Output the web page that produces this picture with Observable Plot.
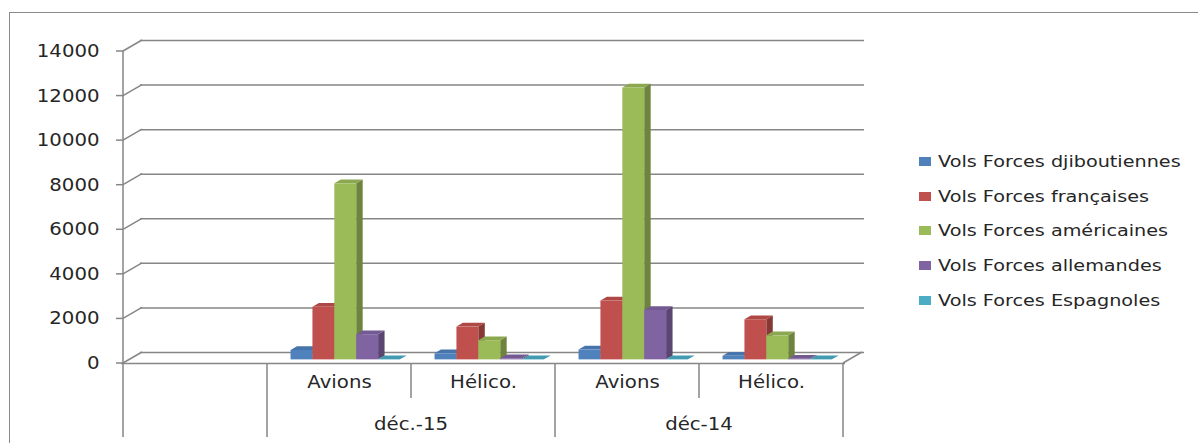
<!DOCTYPE html>
<html>
<head>
<meta charset="utf-8">
<script src="https://cdn.jsdelivr.net/npm/d3@7"></script>
<script src="https://cdn.jsdelivr.net/npm/@observablehq/plot@0.6"></script>
<style>
  html, body { margin: 0; padding: 0; background: #fff; overflow: hidden; }
  #chart { position: relative; width: 1198px; height: 443px; overflow: hidden;
           font-family: "DejaVu Sans", sans-serif; color: #262626; }
  #chart svg { position: absolute; left: 0; top: 0; }
  #border { position: absolute; left: 9px; top: 12px; width: 1300px; height: 600px;
            border: 1.5px solid #8a8a8a; box-sizing: border-box; pointer-events: none; }
  #legend { position: absolute; left: 919px; top: 144px; }
  .item { display: flex; align-items: center; height: 34.7px; }
  .sw { width: 12px; height: 9px; margin-right: 7px; flex: none; }
  .lab { font-size: 16px; transform: scaleX(1.2); transform-origin: left center; white-space: nowrap; }
</style>
</head>
<body>
<div id="chart"></div>
<script>
// Category slots along the floor (the first slot is left empty)
const slots = [0, 1, 2, 3, 4];
const categories = ["", "Avions", "Hélico.", "Avions", "Hélico."];
const periods = ["", "déc.-15", "déc.-15", "déc-14", "déc-14"];

// Series
const seriesNames = [
  "Vols Forces djiboutiennes",
  "Vols Forces françaises",
  "Vols Forces américaines",
  "Vols Forces allemandes",
  "Vols Forces Espagnoles"
];
const seriesColors = ["#4f81bd", "#c0504d", "#9bbb59", "#8064a2", "#4bacc6"];

// Flights per slot
const volsDjiboutiennes = [null, 420, 270, 440, 160];
const volsFrancaises    = [null, 2360, 1470, 2640, 1800];
const volsAmericaines   = [null, 7900, 860, 12200, 1080];
const volsAllemandes    = [null, 1130, 50, 2220, 30];
const volsEspagnoles    = [null, 10, 10, 10, 10];

const yTicks = [0, 2000, 4000, 6000, 8000, 10000, 12000, 14000];

const seriesValues = [volsDjiboutiennes, volsFrancaises, volsAmericaines, volsAllemandes, volsEspagnoles];
const bars = [];
slots.forEach(slot => seriesValues.forEach((vals, s) => {
  if (vals[slot] != null) bars.push({slot, s, value: vals[slot]});
}));

// 3-D look: the back wall is pushed right/up by DEPTH
const DEPTH = {dx: 19, dy: -11};
const PLANE = 0.33;   // bars stand this far into the depth
const THICK = 0.34;   // bar thickness in depth units
const BAR = 0.152;    // bar width as a share of a slot
const GRID = "#868686";
const INK = "#262626";
const FONT = 17;

const bandOf = x => (typeof x.bandwidth === "function" ? x.bandwidth() : x(1) - x(0));

function line(g, x1, y1, x2, y2) {
  g.append("line").attr("x1", x1).attr("y1", y1).attr("x2", x2).attr("y2", y2)
    .attr("stroke", GRID).attr("stroke-width", 1.5);
}

// Front axis, diagonals to the back wall, floor edges and category separators
function frameLines(index, scales, values, dimensions) {
  const {x, y} = scales;
  const bw = bandOf(x);
  const g = d3.create("svg:g");
  const left = x(slots[0]);
  const right = x(slots[slots.length - 1]) + bw;
  const y0 = y(0);
  const bottom = dimensions.height - 6;
  line(g, left, y(d3.max(yTicks)), left, y0);
  for (const t of yTicks) {
    line(g, left - 7, y(t), left, y(t));
    line(g, left, y(t), left + DEPTH.dx, y(t) + DEPTH.dy);
  }
  line(g, right, y0, right + DEPTH.dx, y0 + DEPTH.dy);
  // separators: long where the period changes, short between categories
  slots.forEach((s, i) => {
    const xs = x(s);
    const long = i === 0 || periods[i] !== periods[i - 1];
    line(g, xs, y0, xs, long ? bottom : y0 + 35);
  });
  line(g, right, y0, right, bottom);
  return g.node();
}

// Extruded columns: side, top, then front face
function bars3d(index, scales) {
  const {x, y} = scales;
  const bw = bandOf(x);
  const g = d3.create("svg:g");
  const ox = DEPTH.dx * PLANE, oy = DEPTH.dy * PLANE;
  const ex = DEPTH.dx * THICK, ey = DEPTH.dy * THICK;
  const w = bw * BAR;
  const gap = (bw - w * seriesValues.length) / 2;
  for (const b of bars) {
    const x0 = x(b.slot) + ox + gap + b.s * w, x1 = x0 + w;
    const yt = y(b.value) + oy, yb = y(0) + oy;
    const c = d3.color(seriesColors[b.s]);
    g.append("polygon")
      .attr("points", [[x1, yb], [x1 + ex, yb + ey], [x1 + ex, yt + ey], [x1, yt]].join(" "))
      .attr("fill", c.darker(1).formatHex());
    g.append("polygon")
      .attr("points", [[x0, yt], [x0 + ex, yt + ey], [x1 + ex, yt + ey], [x1, yt]].join(" "))
      .attr("fill", c.darker(0.3).formatHex());
    g.append("rect")
      .attr("x", x0).attr("y", yt).attr("width", w).attr("height", Math.max(0, yb - yt))
      .attr("fill", c.formatHex());
  }
  return g.node();
}

// Period labels centred under their categories
function periodLabels(index, scales, values, dimensions) {
  const {x, y} = scales;
  const bw = bandOf(x);
  const g = d3.create("svg:g");
  const groups = d3.groups(slots.filter(s => periods[s] !== ""), s => periods[s]);
  for (const [name, members] of groups) {
    const cx = (x(d3.min(members)) + x(d3.max(members)) + bw) / 2;
    g.append("text").attr("x", cx).attr("y", y(0) + 67)
      .attr("text-anchor", "middle").attr("fill", INK).attr("font-size", FONT).text(name);
  }
  return g.node();
}

const chart = Plot.plot({
  width: 1198,
  height: 443,
  marginLeft: 121,
  marginRight: 353,
  marginTop: 51,
  marginBottom: 80,
  x: {type: "band", domain: slots, padding: 0, axis: null},
  y: {domain: [0, d3.max(yTicks)], axis: null},
  style: {fontFamily: "DejaVu Sans, sans-serif", fontSize: FONT + "px", color: INK, background: "transparent", overflow: "visible"},
  marks: [
    Plot.ruleY(yTicks, {y: d => d, dx: DEPTH.dx, dy: DEPTH.dy, stroke: GRID, strokeWidth: 1.5}),
    Plot.ruleY([0], {y: d => d, stroke: GRID, strokeWidth: 1.5}),
    frameLines,
    bars3d,
    Plot.text(yTicks, {y: d => d, frameAnchor: "left", textAnchor: "end", dx: -22,
      text: d => d3.format("d")(d), fill: INK, fontSize: FONT}),
    Plot.text(slots, {x: d => d, frameAnchor: "bottom", dy: 24,
      text: i => categories[i], fill: INK, fontSize: FONT}),
    periodLabels
  ]
});

const root = document.getElementById("chart");
root.appendChild(chart);

// widen the lettering a little
chart.querySelectorAll("text").forEach(t => {
  const L = t.getComputedTextLength();
  if (L > 0) {
    t.setAttribute("textLength", (L * 1.16).toFixed(1));
    t.setAttribute("lengthAdjust", "spacingAndGlyphs");
  }
});

const border = document.createElement("div");
border.id = "border";
root.appendChild(border);

// Legend to the right of the chart
const legend = d3.select(root).append("div").attr("id", "legend");
seriesNames.forEach((name, i) => {
  const item = legend.append("div").attr("class", "item");
  item.append("div").attr("class", "sw").style("background", seriesColors[i]);
  item.append("span").attr("class", "lab").text(name);
});
</script>
</body>
</html>
